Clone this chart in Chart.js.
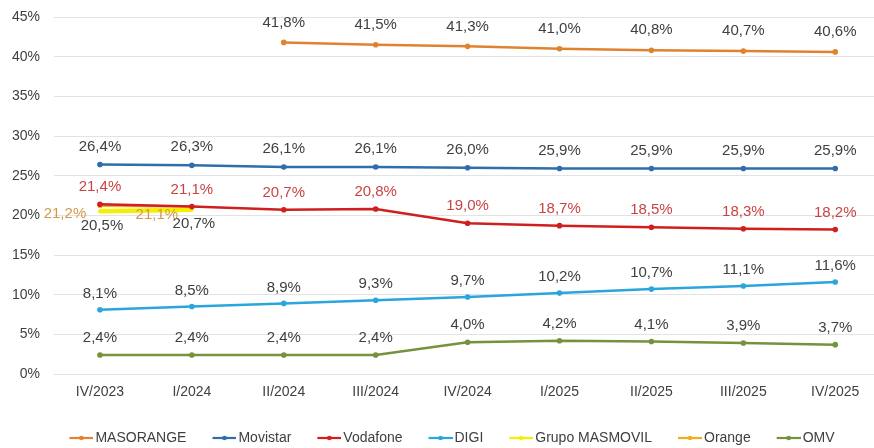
<!DOCTYPE html>
<html><head><meta charset="utf-8">
<script src="https://cdn.jsdelivr.net/npm/chart.js@4"></script>
<style>html,body{margin:0;padding:0;background:#fff;overflow:hidden;}#wrap{width:884px;height:448px;position:relative;}</style>
</head><body><div id="wrap"><canvas id="c"></canvas></div>
<script>
const categories = ['IV/2023','I/2024','II/2024','III/2024','IV/2024','I/2025','II/2025','III/2025','IV/2025'];
const masorange = [null, null, 41.8, 41.5, 41.3, 41.0, 40.8, 40.7, 40.6];
const movistar = [26.4, 26.3, 26.1, 26.1, 26.0, 25.9, 25.9, 25.9, 25.9];
const vodafone = [21.4, 21.1, 20.7, 20.8, 19.0, 18.7, 18.5, 18.3, 18.2];
const digi = [8.1, 8.5, 8.9, 9.3, 9.7, 10.2, 10.7, 11.1, 11.6];
const grupoMasmovil = [20.5, 20.7, null, null, null, null, null, null, null];
const orange = [21.2, 21.1, null, null, null, null, null, null, null];
const omv = [2.4, 2.4, 2.4, 2.4, 4.0, 4.2, 4.1, 3.9, 3.7];
const yTicks = [0,5,10,15,20,25,30,35,40,45];

const FONT = 'Liberation Sans, Arial, sans-serif';

function ds(label, data, color, lblColor, dx, dy, width, radius) {
  return {label, data, borderColor: color, backgroundColor: color, pointBackgroundColor: color,
    pointBorderColor: color, borderWidth: width, pointRadius: radius, pointHoverRadius: radius,
    pointBorderWidth: 0, spanGaps: false, tension: 0, lblColor, lblDx: dx, lblDy: dy};
}
const datasets = [
  ds('MASORANGE', masorange, '#e0832f', '#404040', 0, -20, 2.5, 2.8),
  ds('Movistar', movistar, '#2f6eab', '#404040', 0, -18, 2.5, 2.8),
  ds('Vodafone', vodafone, '#d01f1f', '#c94343', 0, -17, 2.5, 2.8),
  ds('DIGI', digi, '#2ba6dc', '#404040', 0, -16, 2.5, 2.8),
  ds('Grupo MASMOVIL', grupoMasmovil, '#f5f000', '#404040', 2, 14, 4.5, 2),
  ds('Orange', orange, '#f2ae1c', '#d2984d', -35, 8, 2.5, 2.5),
  ds('OMV', omv, '#76923c', '#404040', 0, -17, 2.5, 2.8)
];

// legend icon: transparent left margin (spacing) + line with a small dot
const ICON_W = 49, ICON_H = 10, ICON_LINE = 24;
function icon(color) {
  const c = document.createElement('canvas');
  c.width = ICON_W; c.height = ICON_H;
  const x = c.getContext('2d');
  const x0 = ICON_W - ICON_LINE;
  x.strokeStyle = color; x.lineWidth = 2.2;
  x.beginPath(); x.moveTo(x0, 5); x.lineTo(ICON_W, 5); x.stroke();
  x.fillStyle = color; x.beginPath(); x.arc(x0 + ICON_LINE / 2, 5, 2.3, 0, Math.PI * 2); x.fill();
  return c;
}
const icons = datasets.map(d => icon(d.borderColor));

const labelPlugin = {
  id: 'vlabels',
  afterDatasetsDraw(chart) {
    const ctx = chart.ctx;
    ctx.save();
    ctx.font = '15px ' + FONT;
    ctx.textAlign = 'center';
    ctx.textBaseline = 'middle';
    chart.data.datasets.forEach((d, i) => {
      const meta = chart.getDatasetMeta(i);
      meta.data.forEach((pt, j) => {
        const v = d.data[j];
        if (v === null || v === undefined) return;
        ctx.fillStyle = d.lblColor;
        ctx.fillText(v.toFixed(1).replace('.', ',') + '%', pt.x + d.lblDx, pt.y + d.lblDy);
      });
    });
    ctx.restore();
  }
};

new Chart(document.getElementById('c'), {
  type: 'line',
  data: {labels: categories, datasets},
  plugins: [labelPlugin],
  options: {
    responsive: true, maintainAspectRatio: false, animation: false,
    layout: {padding: {top: 2, left: 0, right: 0, bottom: -7}},
    plugins: {
      tooltip: {enabled: false},
      legend: {
        position: 'bottom',
        labels: {
          usePointStyle: true, pointStyleWidth: 39, boxHeight: 10,
          font: {family: FONT, size: 14}, color: '#404040', padding: 6,
          generateLabels(chart) {
            const items = Chart.defaults.plugins.legend.labels.generateLabels(chart);
            items.forEach((it, i) => { it.pointStyle = icons[i]; });
            return items;
          }
        }
      }
    },
    scales: {
      x: {
        offset: true,
        afterFit(s) { s.height = 51; },
        grid: {display: false, drawTicks: false},
        border: {display: false},
        ticks: {font: {family: FONT, size: 14}, color: '#404040', padding: 10, maxRotation: 0}
      },
      y: {
        min: 0, max: 45,
        afterBuildTicks(s) { s.ticks = yTicks.map(v => ({value: v})); },
        afterFit(s) { s.width = 54; },
        grid: {color: '#e3e3e3', drawTicks: false},
        border: {display: false},
        ticks: {font: {family: FONT, size: 14, lineHeight: 0.43}, color: '#404040', padding: 14,
          callback: v => v + '%'}
      }
    }
  }
});
</script></body></html>
